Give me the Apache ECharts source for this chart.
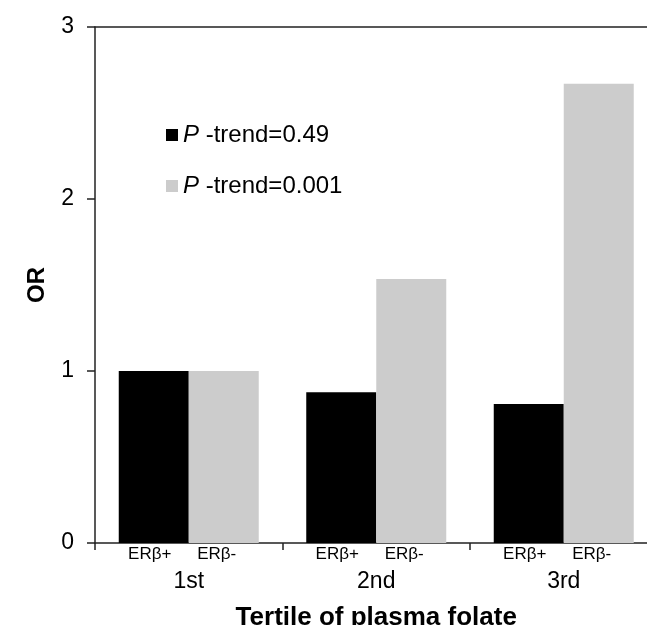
<!DOCTYPE html>
<html>
<head>
<meta charset="utf-8">
<script src="https://cdn.jsdelivr.net/npm/echarts@6/dist/echarts.min.js"></script>
<style>
  html, body { margin: 0; padding: 0; background: #fff; }
  #chart { width: 647px; height: 625px; }
</style>
</head>
<body>
<div id="chart"></div>
<script>
const tertiles = ['1st', '2nd', '3rd'];
const subLabels = ['ERβ+', 'ERβ-'];
const legendNames = ['P-trend=0.49', 'P-trend=0.001'];
const erPos = [1.0, 0.876, 0.808];
const erNeg = [1.0, 1.535, 2.67];
const yTicks = [0, 1, 2, 3];

const font = 'Liberation Sans, Arial, sans-serif';
const axisColor = '#222';

const chart = echarts.init(document.getElementById('chart'));

const option = {
  animation: false,
  backgroundColor: '#fff',
  textStyle: { fontFamily: font },
  // plot runs past the right edge of the picture, as in the original
  grid: { left: 95, width: 562.5, top: 27, bottom: 82, outerBoundsMode: 'none', containLabel: false },
  legend: {
    orient: 'vertical',
    left: 166,
    top: 123,
    padding: 0,
    itemGap: 27,
    itemWidth: 12,
    itemHeight: 12,
    icon: 'rect',
    data: legendNames,
    formatter: name => '{i|P} ' + name.slice(1),
    textStyle: {
      fontFamily: font,
      fontSize: 24,
      color: '#000',
      rich: {
        i: { fontFamily: font, fontSize: 24, fontStyle: 'italic', color: '#000' }
      }
    }
  },
  xAxis: [
    {
      type: 'category',
      data: tertiles,
      position: 'bottom',
      axisLine: { lineStyle: { color: axisColor, width: 1.5 } },
      axisTick: { show: true, length: 7, lineStyle: { color: axisColor, width: 1.5 } },
      axisLabel: {
        margin: 2,
        interval: 0,
        color: '#000',
        formatter: v => '{p|' + subLabels[0] + '}{m|' + subLabels[1] + '}{s| }\n{t|' + v + '}',
        rich: {
          p: { fontFamily: font, fontSize: 17, color: '#000', width: 67, align: 'center', lineHeight: 18 },
          m: { fontFamily: font, fontSize: 17, color: '#000', width: 67, align: 'center', lineHeight: 18 },
          s: { fontSize: 17, width: 11, lineHeight: 18 },
          t: { fontFamily: font, fontSize: 23, color: '#000', lineHeight: 38 }
        }
      },
      name: 'Tertile of plasma folate',
      nameLocation: 'middle',
      nameGap: 62,
      nameTextStyle: { fontFamily: font, fontSize: 26, fontWeight: 'bold', color: '#000' }
    },
    {
      type: 'category',
      data: tertiles,
      position: 'top',
      axisLine: { lineStyle: { color: axisColor, width: 1.5 } },
      axisTick: { show: false },
      axisLabel: { show: false }
    }
  ],
  yAxis: {
    type: 'value',
    min: yTicks[0],
    max: yTicks[yTicks.length - 1],
    interval: 1,
    axisLine: { show: true, lineStyle: { color: axisColor, width: 1.5 } },
    axisTick: { show: true, length: 8, lineStyle: { color: axisColor, width: 1.5 } },
    splitLine: { show: false },
    axisLabel: { margin: 21, fontFamily: font, fontSize: 23, color: '#000' },
    name: 'OR',
    nameLocation: 'middle',
    nameGap: 46,
    nameTextStyle: { fontFamily: font, fontSize: 24, fontWeight: 'bold', color: '#000' }
  },
  series: [
    {
      name: legendNames[0],
      type: 'bar',
      data: erPos,
      barWidth: 70,
      barGap: '0%',
      itemStyle: { color: '#000' }
    },
    {
      name: legendNames[1],
      type: 'bar',
      data: erNeg,
      barWidth: 70,
      barGap: '0%',
      itemStyle: { color: '#cccccc' }
    }
  ]
};

chart.setOption(option);
</script>
</body>
</html>
